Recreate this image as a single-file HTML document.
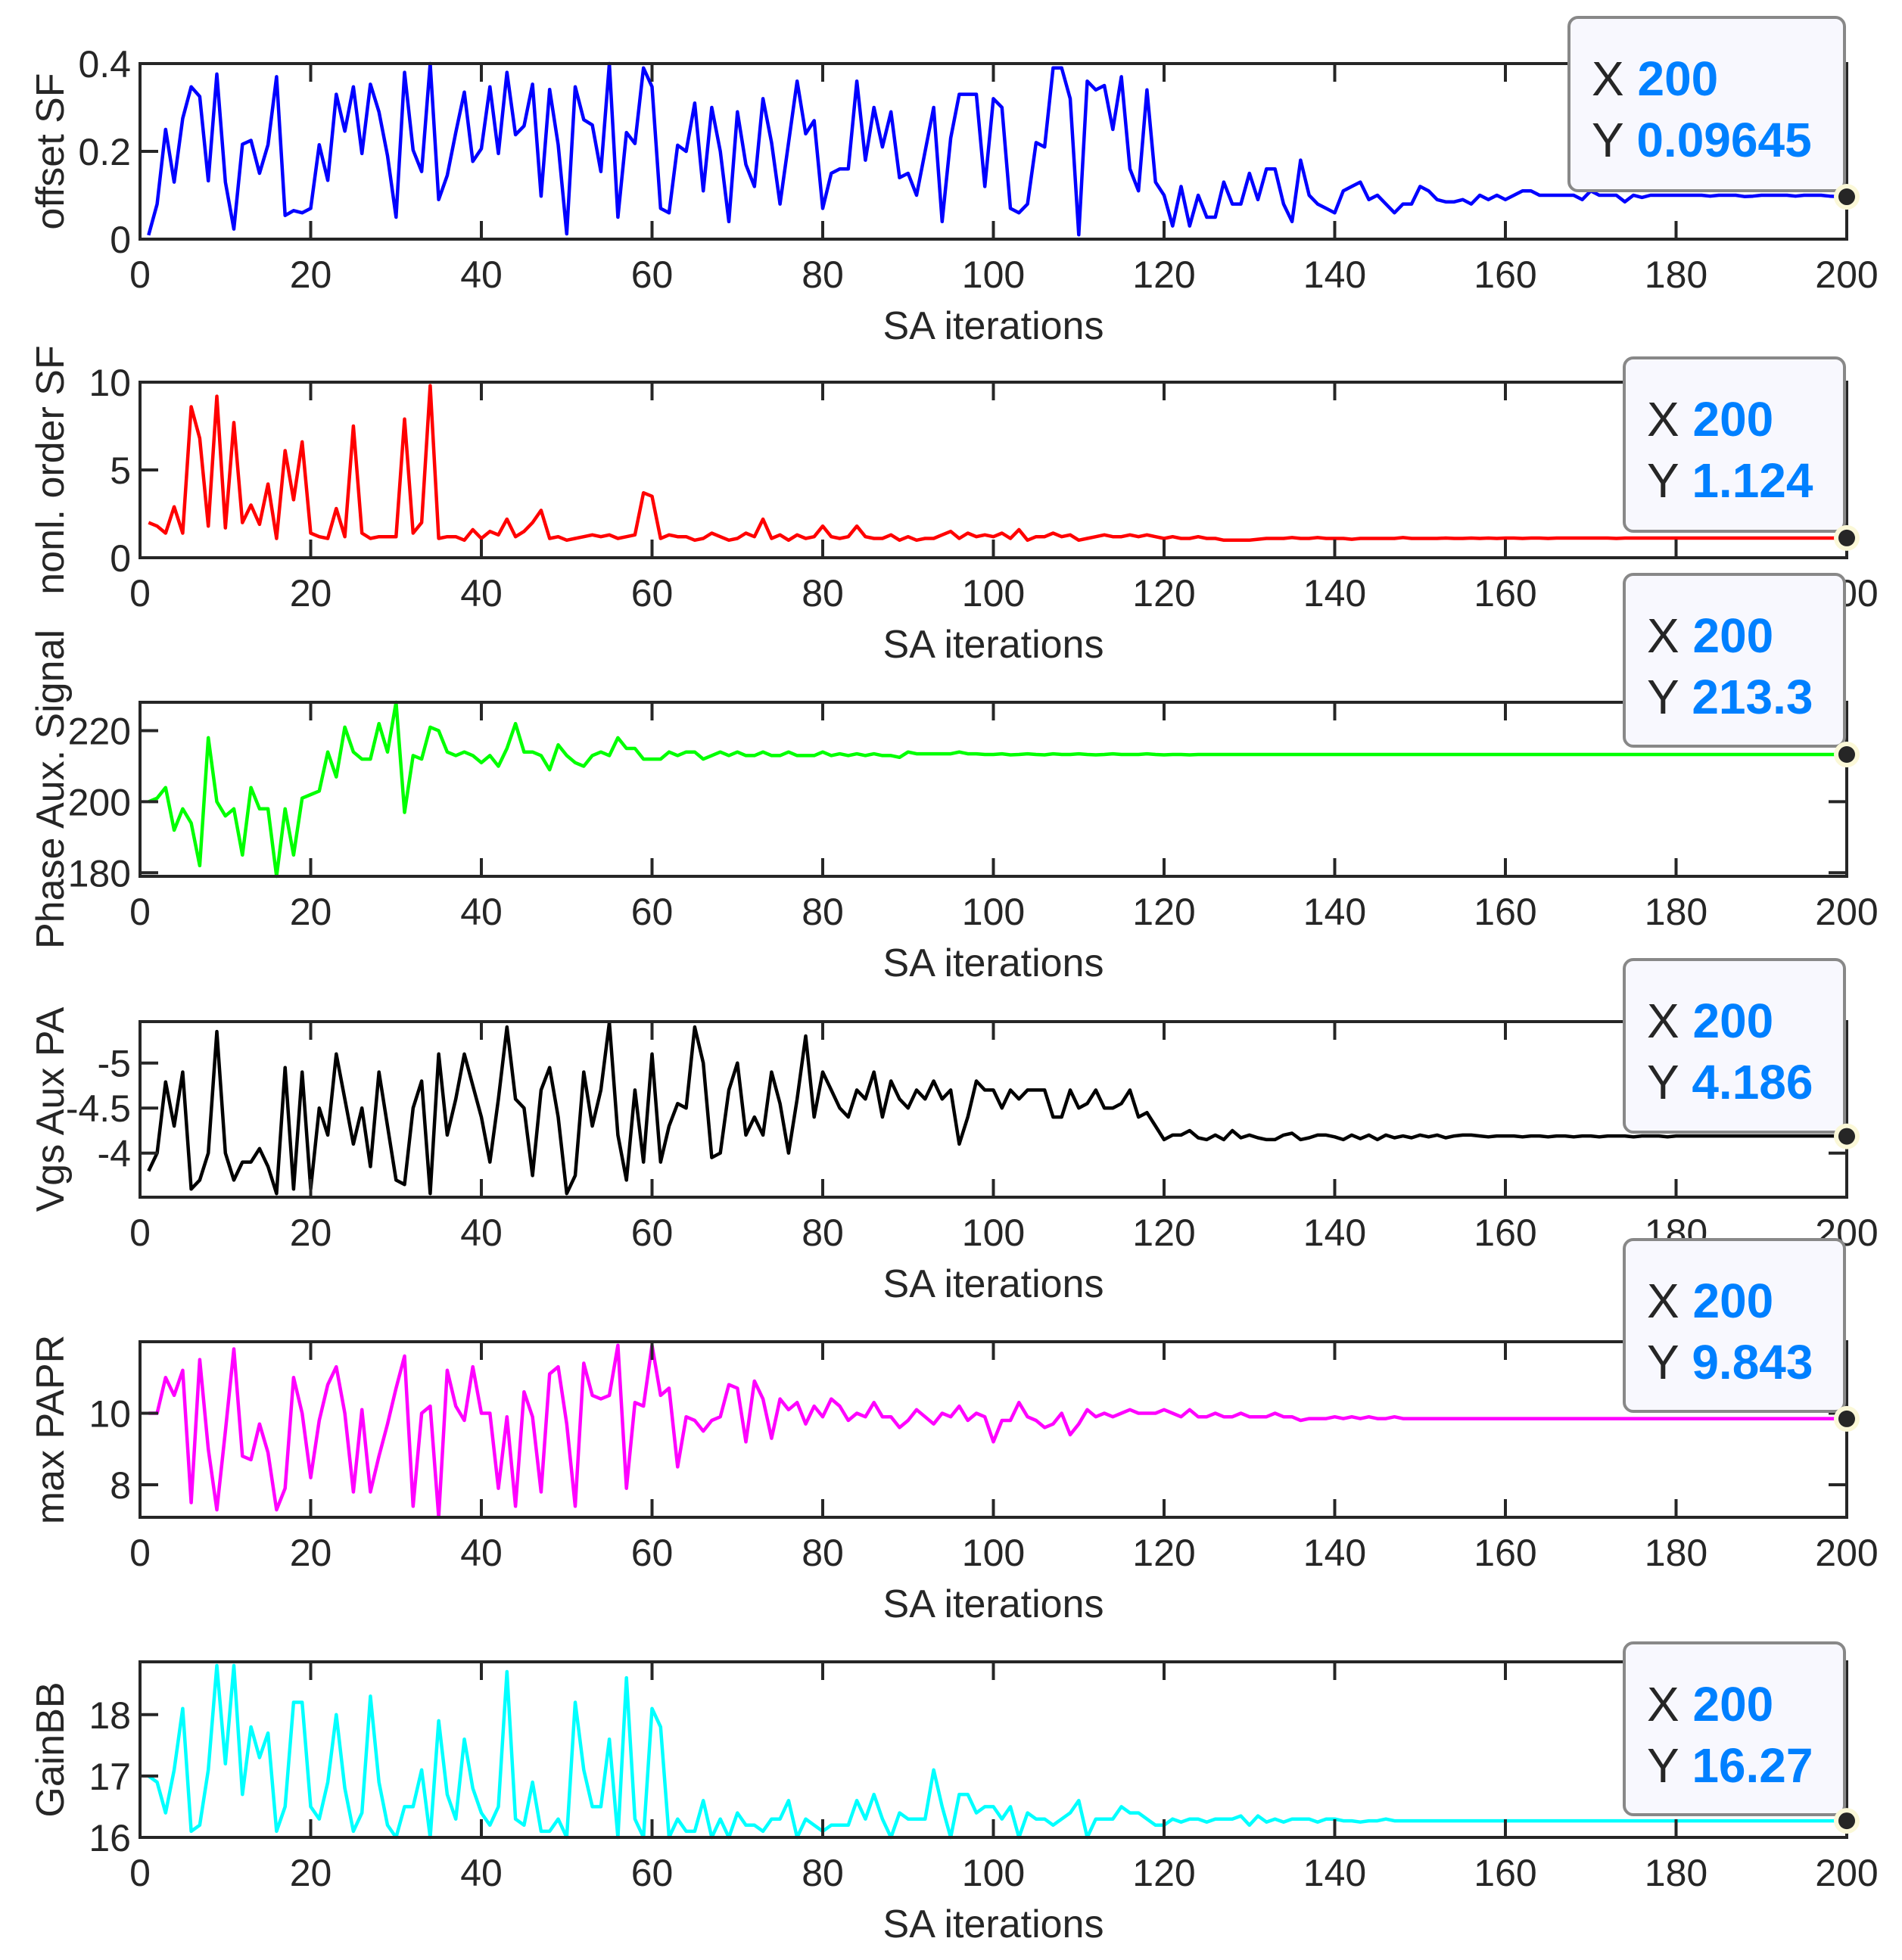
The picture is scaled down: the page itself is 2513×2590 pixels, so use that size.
<!DOCTYPE html>
<html><head><meta charset="utf-8"><style>
html,body{margin:0;padding:0;background:#fff;}
svg{display:block;}
text{font-family:"Liberation Sans",Arial,sans-serif;fill:#262626;}
</style></head>
<body>
<svg id="fig" width="2513" height="2590" viewBox="0 0 2513 2590" xmlns="http://www.w3.org/2000/svg"></svg>
<script>
const xTicks=[0,20,40,60,80,100,120,140,160,180,200];
const offsetSF=[.009,.08,.25,.13,.275,.347,.325,.133,.376,.13,
.023,.216,.225,.15,.215,.37,.054,.065,.06,.07,
.215,.134,.33,.246,.347,.195,.353,.29,.19,.05,
.38,.203,.154,.4,.09,.145,.243,.335,.177,.206,
.347,.195,.38,.238,.258,.353,.098,.341,.215,.012,
.347,.272,.26,.154,.4,.05,.243,.218,.39,.347,
.07,.06,.214,.2,.31,.11,.3,.2,.04,.29,
.17,.12,.32,.22,.08,.22,.36,.24,.27,.07,
.15,.16,.16,.36,.18,.3,.21,.29,.14,.15,
.1,.2,.3,.04,.23,.33,.33,.33,.12,.32,
.3,.07,.06,.08,.22,.21,.39,.39,.32,.01,
.36,.34,.35,.25,.37,.16,.11,.34,.13,.1,
.03,.12,.03,.1,.05,.05,.13,.08,.08,.15,
.09,.16,.16,.08,.04,.18,.1,.08,.07,.06,
.11,.12,.13,.09,.1,.08,.06,.08,.08,.12,
.11,.09,.085,.085,.09,.08,.1,.09,.1,.09,
.1,.11,.11,.1,.1,.1,.1,.1,.09,.11,
.1,.1,.1,.085,.1,.095,.1,.1,.1,.1,
.1,.1,.1,.098,.1,.1,.1,.097,.098,.1,
.1,.1,.1,.098,.1,.1,.1,.098,.097,.0965];
const nonlOrder=[2,1.8,1.4,2.9,1.4,8.6,6.8,1.8,9.2,1.7,
7.7,2,3,1.9,4.2,1.1,6.1,3.3,6.6,1.4,
1.2,1.1,2.8,1.2,7.5,1.4,1.1,1.2,1.2,1.2,
7.9,1.4,2,9.8,1.1,1.2,1.2,1,1.6,1.1,
1.5,1.3,2.2,1.2,1.5,2,2.7,1.1,1.2,1,
1.1,1.2,1.3,1.2,1.3,1.1,1.2,1.3,3.7,3.5,
1.1,1.3,1.2,1.2,1,1.1,1.4,1.2,1,1.1,
1.4,1.2,2.2,1.1,1.3,1,1.3,1.1,1.2,1.8,
1.2,1.1,1.2,1.8,1.2,1.1,1.1,1.3,1,1.2,
1,1.1,1.1,1.3,1.5,1.1,1.4,1.2,1.3,1.2,
1.4,1.1,1.6,1,1.2,1.2,1.4,1.2,1.3,1,
1.1,1.2,1.3,1.2,1.2,1.3,1.2,1.3,1.2,1.1,
1.2,1.1,1.1,1.2,1.1,1.1,1,1,1,1,
1.05,1.1,1.1,1.1,1.15,1.1,1.1,1.15,1.1,1.1,
1.1,1.05,1.1,1.1,1.1,1.1,1.1,1.15,1.1,1.1,
1.1,1.1,1.12,1.1,1.1,1.12,1.1,1.12,1.1,1.12,
1.12,1.1,1.12,1.12,1.1,1.12,1.12,1.12,1.12,1.12,
1.12,1.12,1.1,1.12,1.12,1.12,1.12,1.12,1.12,1.12,
1.12,1.12,1.12,1.12,1.12,1.12,1.12,1.12,1.12,1.12,
1.12,1.12,1.12,1.12,1.12,1.12,1.12,1.12,1.12,1.124];
const phaseAux=[200,201,204,192,198,194,182,218,200,196,
198,185,204,198,198,179,198,185,201,202,
203,214,207,221,214,212,212,222,214,228,
197,213,212,221,220,214,213,214,213,211,
213,210,215,222,214,214,213,209,216,213,
211,210,213,214,213,218,215,215,212,212,
212,214,213,214,214,212,213,214,213,214,
213,213,214,213,213,214,213,213,213,214,
213,213.5,213,213.5,213,213.5,213,213,212.5,214,
213.5,213.5,213.5,213.5,213.5,214,213.5,213.5,213.3,213.3,
213.5,213.2,213.3,213.5,213.3,213.2,213.5,213.3,213.3,213.5,
213.3,213.2,213.3,213.5,213.3,213.3,213.3,213.5,213.3,213.2,
213.3,213.3,213.2,213.3,213.3,213.3,213.3,213.3,213.3,213.3,
213.3,213.3,213.3,213.3,213.3,213.3,213.3,213.3,213.3,213.3,
213.3,213.3,213.3,213.3,213.3,213.3,213.3,213.3,213.3,213.3,
213.3,213.3,213.3,213.3,213.3,213.3,213.3,213.3,213.3,213.3,
213.3,213.3,213.3,213.3,213.3,213.3,213.3,213.3,213.3,213.3,
213.3,213.3,213.3,213.3,213.3,213.3,213.3,213.3,213.3,213.3,
213.3,213.3,213.3,213.3,213.3,213.3,213.3,213.3,213.3,213.3,
213.3,213.3,213.3,213.3,213.3,213.3,213.3,213.3,213.3,213.3];
const vgsAux=[3.8,4,4.79,4.3,4.9,3.6,3.7,4,5.35,4,
3.7,3.9,3.9,4.05,3.85,3.55,4.95,3.6,4.9,3.6,
4.5,4.2,5.1,4.6,4.1,4.5,3.85,4.9,4.3,3.7,
3.65,4.5,4.8,3.55,5.1,4.2,4.6,5.1,4.75,4.4,
3.9,4.6,5.4,4.6,4.5,3.75,4.7,4.95,4.4,3.55,
3.75,4.9,4.3,4.7,5.45,4.2,3.7,4.7,3.9,5.1,
3.9,4.3,4.55,4.5,5.4,5,3.95,4,4.7,5,
4.2,4.4,4.2,4.9,4.55,4,4.6,5.3,4.4,4.9,
4.7,4.5,4.4,4.7,4.6,4.9,4.4,4.8,4.6,4.5,
4.7,4.6,4.8,4.6,4.7,4.1,4.4,4.8,4.7,4.7,
4.5,4.7,4.6,4.7,4.7,4.7,4.4,4.4,4.7,4.5,
4.55,4.7,4.5,4.5,4.55,4.7,4.4,4.45,4.3,4.15,
4.2,4.2,4.25,4.17,4.15,4.2,4.15,4.25,4.17,4.2,
4.17,4.15,4.15,4.2,4.22,4.15,4.17,4.2,4.2,4.18,
4.15,4.2,4.16,4.2,4.15,4.2,4.17,4.19,4.17,4.2,
4.18,4.2,4.17,4.19,4.2,4.2,4.19,4.18,4.19,4.19,
4.19,4.18,4.19,4.19,4.18,4.19,4.19,4.18,4.19,4.19,
4.18,4.19,4.19,4.19,4.18,4.19,4.19,4.19,4.18,4.19,
4.19,4.19,4.19,4.19,4.19,4.19,4.19,4.19,4.19,4.19,
4.19,4.19,4.19,4.19,4.19,4.19,4.19,4.19,4.19,4.186];
const maxPAPR=[10,10,11,10.5,11.2,7.5,11.5,9,7.3,9.5,
11.8,8.8,8.7,9.7,8.9,7.3,7.9,11,10,8.2,
9.8,10.8,11.3,10,7.8,10.1,7.8,8.8,9.7,10.7,
11.6,7.4,10,10.2,7.1,11.2,10.2,9.8,11.3,10,
10,7.9,9.9,7.4,10.6,9.9,7.8,11.1,11.3,9.7,
7.4,11.4,10.5,10.4,10.5,11.9,7.9,10.3,10.2,11.9,
10.5,10.7,8.5,9.9,9.8,9.5,9.8,9.9,10.8,10.7,
9.2,10.9,10.4,9.3,10.4,10.1,10.3,9.7,10.2,9.9,
10.4,10.2,9.8,10,9.9,10.3,9.9,9.9,9.6,9.8,
10.1,9.9,9.7,10,9.9,10.2,9.8,10,9.9,9.2,
9.8,9.8,10.3,9.9,9.8,9.6,9.7,10,9.4,9.7,
10.1,9.9,10,9.9,10,10.1,10,10,10,10.1,
10,9.9,10.1,9.9,9.9,10,9.9,9.9,10,9.9,
9.9,9.9,10,9.9,9.9,9.8,9.85,9.85,9.85,9.9,
9.85,9.9,9.85,9.9,9.85,9.85,9.9,9.85,9.85,9.85,
9.85,9.85,9.85,9.85,9.85,9.85,9.85,9.85,9.85,9.85,
9.85,9.85,9.85,9.85,9.85,9.85,9.85,9.85,9.85,9.85,
9.85,9.85,9.85,9.85,9.85,9.85,9.85,9.85,9.85,9.85,
9.85,9.85,9.85,9.85,9.85,9.85,9.85,9.85,9.85,9.85,
9.85,9.85,9.85,9.85,9.85,9.85,9.85,9.85,9.85,9.843];
const gainBB=[17,16.9,16.4,17.1,18.1,16.1,16.2,17.1,18.8,17.2,
18.8,16.7,17.8,17.3,17.7,16.1,16.5,18.2,18.2,16.5,
16.3,16.9,18,16.8,16.1,16.4,18.3,16.9,16.2,16,
16.5,16.5,17.1,16,17.9,16.7,16.3,17.6,16.8,16.4,
16.2,16.5,18.7,16.3,16.2,16.9,16.1,16.1,16.3,16,
18.2,17.1,16.5,16.5,17.6,16,18.6,16.3,16,18.1,
17.8,16,16.3,16.1,16.1,16.6,16,16.3,16,16.4,
16.2,16.2,16.1,16.3,16.3,16.6,16,16.3,16.2,16.1,
16.2,16.2,16.2,16.6,16.3,16.7,16.3,16,16.4,16.3,
16.3,16.3,17.1,16.5,16,16.7,16.7,16.4,16.5,16.5,
16.3,16.5,16,16.4,16.3,16.3,16.2,16.3,16.4,16.6,
16,16.3,16.3,16.3,16.5,16.4,16.4,16.3,16.2,16.2,
16.3,16.25,16.3,16.3,16.25,16.3,16.3,16.3,16.35,16.2,
16.35,16.25,16.3,16.25,16.3,16.3,16.3,16.25,16.3,16.3,
16.27,16.27,16.25,16.27,16.27,16.3,16.27,16.27,16.27,16.27,
16.27,16.27,16.27,16.27,16.27,16.27,16.27,16.27,16.27,16.27,
16.27,16.27,16.27,16.27,16.27,16.27,16.27,16.27,16.27,16.27,
16.27,16.27,16.27,16.27,16.27,16.27,16.27,16.27,16.27,16.27,
16.27,16.27,16.27,16.27,16.27,16.27,16.27,16.27,16.27,16.27,
16.27,16.27,16.27,16.27,16.27,16.27,16.27,16.27,16.27,16.27];

const NS="http://www.w3.org/2000/svg";
const svg=document.getElementById('fig');
const L=185,R=2440;
function mk(tag,attrs,parent){const e=document.createElementNS(NS,tag);for(const k in attrs)e.setAttribute(k,attrs[k]);(parent||svg).appendChild(e);return e;}
function xs(v){return L+v/200*(R-L);}

const panels=[
 {name:'offset-sf',top:84,bot:316,ymin:0,ymax:0.4,ticks:[0,0.2,0.4],tl:['0','0.2','0.4'],label:'offset SF',color:'#0000ff',data:offsetSF,box:[2073,23,2437,252],ytext:'0.09645'},
 {name:'nonl-order-sf',top:505,bot:737,ymin:0,ymax:10,ticks:[0,5,10],tl:['0','5','10'],label:'nonl. order SF',color:'#ff0000',data:nonlOrder,box:[2146,473,2437,702],ytext:'1.124'},
 {name:'phase-aux-signal',top:928,bot:1158,ymin:179,ymax:228,ticks:[180,200,220],tl:['180','200','220'],label:'Phase Aux. Signal',color:'#00ff00',data:phaseAux,box:[2146,759,2437,986],ytext:'213.3'},
 {name:'vgs-aux-pa',top:1350,bot:1582,ymin:3.51,ymax:5.46,ticks:[4,4.5,5],tl:['-4','-4.5','-5'],label:'Vgs Aux PA',color:'#000000',data:vgsAux,box:[2146,1268,2437,1496],ytext:'4.186'},
 {name:'max-papr',top:1773,bot:2005,ymin:7.09,ymax:12,ticks:[8,10],tl:['8','10'],label:'max PAPR',color:'#ff00ff',data:maxPAPR,box:[2146,1638,2437,1865],ytext:'9.843'},
 {name:'gainbb',top:2196,bot:2428,ymin:16,ymax:18.86,ticks:[16,17,18],tl:['16','17','18'],label:'GainBB',color:'#00ffff',data:gainBB,box:[2146,2171,2437,2398],ytext:'16.27'}
];

panels.forEach(p=>{
  const g=mk('g',{});
  
  
  const ys=v=>p.bot-(v-p.ymin)/(p.ymax-p.ymin)*(p.bot-p.top);
  let d='';
  p.data.forEach((v,i)=>{d+=(i?'L':'M')+xs(i+1).toFixed(1)+','+ys(v).toFixed(1);});
  const line=mk('path',{d:d,fill:'none',stroke:p.color,'stroke-width':4.5,'stroke-linejoin':'round'},g);
  
  
  const box=mk('rect',{x:L,y:p.top,width:R-L,height:p.bot-p.top,fill:'none',stroke:'#262626','stroke-width':4},g);
  
  
  xTicks.forEach(t=>{
    const x=xs(t);
    mk('line',{x1:x,x2:x,y1:p.bot,y2:p.bot-24,stroke:'#262626','stroke-width':4},g);
    mk('line',{x1:x,x2:x,y1:p.top,y2:p.top+24,stroke:'#262626','stroke-width':4},g);
    const tx=mk('text',{x:x,y:p.bot+64,'font-size':50,'text-anchor':'middle'},g);
    tx.textContent=String(t);
    
    
  });
  p.ticks.forEach((t,k)=>{
    const y=ys(t);
    mk('line',{x1:L,x2:L+24,y1:y,y2:y,stroke:'#262626','stroke-width':4},g);
    mk('line',{x1:R,x2:R-24,y1:y,y2:y,stroke:'#262626','stroke-width':4},g);
    const ty=mk('text',{x:L-12,y:y+18,'font-size':50,'text-anchor':'end'},g);
    ty.textContent=p.tl[k];
    
    
  });
  const xl=mk('text',{x:(L+R)/2,y:p.bot+132,'font-size':52,'text-anchor':'middle'},g);
  xl.textContent='SA iterations';
  
  
  const cy=(p.top+p.bot)/2;
  const yl=mk('text',{x:0,y:0,'font-size':52,'text-anchor':'middle',transform:'translate(84,'+cy+') rotate(-90)'},g);
  yl.textContent=p.label;
  
  
  const last=p.data[p.data.length-1];
  const mx=xs(200),my=ys(last);
  const tip=mk('g',{},g);
  
  
  const b=p.box;
  mk('rect',{x:b[0],y:b[1],width:b[2]-b[0],height:b[3]-b[1],rx:12,fill:'#f8f8fe',stroke:'#888888','stroke-width':4},tip);
  const tX=mk('text',{x:b[0]+30,y:b[1]+103,'font-size':64},tip);
  tX.innerHTML='X <tspan font-weight="bold" style="fill:#0080ff">200</tspan>';
  const tY=mk('text',{x:b[0]+30,y:b[1]+184,'font-size':64},tip);
  tY.innerHTML='Y <tspan font-weight="bold" style="fill:#0080ff">'+p.ytext+'</tspan>';
  mk('circle',{cx:mx,cy:my,r:17,fill:'#fbf8d8'},tip);
  const m=mk('circle',{cx:mx,cy:my,r:11,fill:'#262626'},tip);
  
  
});
</script>
</body></html>
